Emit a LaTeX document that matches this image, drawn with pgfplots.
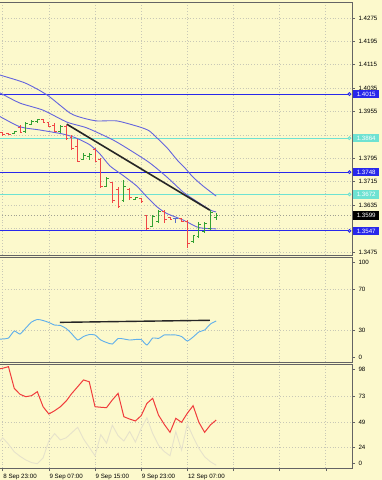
\documentclass[border=0pt]{standalone}
\usepackage{pgfplots}
\pgfplotsset{compat=1.18}
\usepackage{pgfplotstable}
\usepackage{fontspec}
\setmainfont{Liberation Sans}
\definecolor{bg}{RGB}{252,249,204}
\definecolor{framecol}{RGB}{100,100,100}
\definecolor{gridcol}{RGB}{200,200,182}
\definecolor{bandcol}{RGB}{100,100,222}
\definecolor{blueline}{RGB}{40,40,235}
\definecolor{cyanline}{RGB}{110,226,210}
\definecolor{barred}{RGB}{240,70,70}
\definecolor{bargreen}{RGB}{50,160,50}
\definecolor{rsicol}{RGB}{95,175,235}
\definecolor{stred}{RGB}{240,60,60}
\definecolor{stgray}{RGB}{230,226,203}
\definecolor{dojicol}{RGB}{90,110,200}

\pgfdeclareplotmark{otick}{\pgfpathmoveto{\pgfpoint{-2.3bp}{0pt}}\pgfpathlineto{\pgfpoint{0pt}{0pt}}\pgfusepathqstroke}
\pgfdeclareplotmark{ctick}{\pgfpathmoveto{\pgfpoint{0pt}{0pt}}\pgfpathlineto{\pgfpoint{2.3bp}{0pt}}\pgfusepathqstroke}

\pgfplotstableread{
x o h l c
0 1.3883 1.3885 1.3872 1.3875
1 1.3880 1.3882 1.3875 1.3876
3 1.3900 1.3909 1.3882 1.3884
7 1.3928 1.3930 1.3916 1.3918
8 1.3917 1.3919 1.3902 1.3905
9 1.3908 1.3916 1.3885 1.3888
11 1.3905 1.3909 1.3858 1.3862
12 1.3865 1.3875 1.3824 1.3830
13 1.3835 1.3861 1.3783 1.3786
16 1.3825 1.3831 1.3783 1.3786
17 1.3790 1.3796 1.3694 1.3698
19 1.3712 1.3714 1.3642 1.3650
20 1.3690 1.3697 1.3625 1.3630
22 1.3690 1.3694 1.3653 1.3660
24 1.3658 1.3660 1.3642 1.3648
25 1.3598 1.3601 1.3550 1.3555
28 1.3612 1.3618 1.3574 1.3585
29 1.3593 1.3595 1.3584 1.3586
31 1.3589 1.3591 1.3577 1.3580
32 1.3580 1.3584 1.3489 1.3505
}\redbars

\pgfplotstableread{
x o h l c
2 1.3879 1.3889 1.3878 1.3887
4 1.3886 1.3919 1.3882 1.3914
5 1.3912 1.3926 1.3909 1.3922
6 1.3920 1.3930 1.3916 1.3927
10 1.3886 1.3909 1.3882 1.3905
14 1.3792 1.3813 1.3790 1.3806
15 1.3800 1.3813 1.3790 1.3808
18 1.3700 1.3731 1.3697 1.3725
21 1.3650 1.3721 1.3646 1.3700
23 1.3656 1.3663 1.3653 1.3660
26 1.3562 1.3601 1.3560 1.3595
27 1.3580 1.3618 1.3574 1.3612
33 1.3510 1.3533 1.3506 1.3530
34 1.3528 1.3577 1.3523 1.3570
35 1.3545 1.3577 1.3540 1.3572
36 1.3555 1.3618 1.3550 1.3610
37 1.3592 1.3608 1.3584 1.3599
}\greenbars

\pgfplotstableread{
x o h l c
30 1.3588 1.3591 1.3574 1.3588
}\dojibars

\pgfplotsset{
  panel/.style={scale only axis, width=353bp, xmin=-0.64, xmax=60.54, clip=false,
    anchor=north west,
    axis background/.style={fill=bg},
    axis line style={draw=framecol, line width=1bp},
    xtick={0,8,...,56}, xmajorgrids,
    grid style={draw=gridcol, line width=0.7bp, dash pattern=on 0.7bp off 2.2bp},
    ytick pos=right, yticklabel pos=right, tick align=outside, major tick length=3bp,
    tick style={draw=framecol, line width=0.6bp},
    tick label style={font=\fontsize{6.2}{7}\selectfont, text=black},
    scaled y ticks=false},
}
\tikzset{
  boxlab/.style={anchor=west, inner sep=0pt, minimum width=26bp, minimum height=8.5bp,
    text=white, font=\fontsize{6.2}{7}\selectfont, xshift=1bp},
}

\begin{document}
\begin{tikzpicture}
\path[use as bounding box] (0,0) rectangle (382bp,-480bp);
\fill[bg] (0,0) rectangle (382bp,-480bp);
\clip (0,0) rectangle (382bp,-480bp);

% ---------------- price panel ----------------
\begin{axis}[panel, at={(-1bp,-2bp)}, height=253bp,
  ymin=1.34646, ymax=1.43297,
  xticklabels={}, xtick style={draw=none},
  ytick={1.4275,1.4195,1.4115,1.4035,1.3955,1.3875,1.3795,1.3715,1.3635,1.3555,1.3475},
  yticklabels={1.4275,1.4195,1.4115,1.4035,1.3955,,1.3795,1.3715,1.3635,,1.3475},
  ymajorgrids]
% bid line
\addplot[gridcol!80!black, line width=0.7bp, dash pattern=on 0.7bp off 2.2bp] coordinates {(-0.64,1.3599) (60.54,1.3599)};
% horizontal levels
\addplot[blueline, line width=0.9bp, mark=o, mark size=1.4bp, mark indices={2}, mark options={fill=bg}] coordinates {(-0.64,1.4015) (60.1,1.4015)};
\addplot[cyanline, line width=0.9bp, mark=o, mark size=1.4bp, mark indices={2}, mark options={fill=bg}] coordinates {(-0.64,1.3864) (60.1,1.3864)};
\addplot[blueline, line width=0.9bp, mark=o, mark size=1.4bp, mark indices={2}, mark options={fill=bg}] coordinates {(-0.64,1.3748) (60.1,1.3748)};
\addplot[cyanline, line width=0.9bp, mark=o, mark size=1.4bp, mark indices={2}, mark options={fill=bg}] coordinates {(-0.64,1.3672) (60.1,1.3672)};
\addplot[blueline, line width=0.9bp, mark=o, mark size=1.4bp, mark indices={2}, mark options={fill=bg}] coordinates {(-0.64,1.3547) (60.1,1.3547)};
% bands
\addplot[bandcol, line width=0.9bp, smooth, tension=0.4] coordinates {
(-0.64,1.4083) (-0.47,1.4080) (3.86,1.4053) (7.68,1.4012) (11.66,1.3950) (13.92,1.3933) (16.34,1.3923) (19.81,1.3923)
(23.80,1.3902) (25.40,1.3889) (26.74,1.3865) (28.50,1.3831) (30.21,1.3790) (31.60,1.3762) (32.98,1.3731) (34.70,1.3701) (37,1.3666)};
\addplot[bandcol, line width=0.9bp, smooth, tension=0.4] coordinates {
(-0.64,1.4022) (-0.47,1.4019) (3.0,1.3984) (6.98,1.3960) (11.14,1.3919) (14.61,1.3899) (19.12,1.3858) (22.58,1.3817)
(25.53,1.3779) (28.47,1.3731) (31.25,1.3680) (32.46,1.3663) (35.93,1.3619) (37,1.3612)};
\addplot[bandcol, line width=0.9bp, smooth, tension=0.4] coordinates {
(-0.64,1.3941) (-0.47,1.3938) (3.0,1.3903) (6.46,1.3892) (10.5,1.3878) (12.8,1.3864) (15.13,1.3841) (16.86,1.3810)
(18.6,1.3769) (20.9,1.3736) (23.2,1.3701) (24.96,1.3664) (26.7,1.3630) (28.4,1.3607) (31.3,1.3584) (33.6,1.3561) (34.8,1.3556) (37,1.3554)};
% trend line
\addplot[black!85, line width=1.6bp] coordinates {(11.1,1.3912) (35.9,1.3618)};
% bars
\addplot[draw=none, mark=none, forget plot, error bars/.cd, y dir=both, y explicit, error mark=none,
  error bar style={line width=1bp, draw=barred}]
  table[x=x, y expr={(\thisrow{h}+\thisrow{l})/2}, y error expr={(\thisrow{h}-\thisrow{l})/2}] {\redbars};
\addplot[barred, only marks, mark=otick, mark options={line width=1bp}] table[x=x,y=o] {\redbars};
\addplot[barred, only marks, mark=ctick, mark options={line width=1bp}] table[x=x,y=c] {\redbars};
\addplot[draw=none, mark=none, forget plot, error bars/.cd, y dir=both, y explicit, error mark=none,
  error bar style={line width=1bp, draw=bargreen}]
  table[x=x, y expr={(\thisrow{h}+\thisrow{l})/2}, y error expr={(\thisrow{h}-\thisrow{l})/2}] {\greenbars};
\addplot[bargreen, only marks, mark=otick, mark options={line width=1bp}] table[x=x,y=o] {\greenbars};
\addplot[bargreen, only marks, mark=ctick, mark options={line width=1bp}] table[x=x,y=c] {\greenbars};
\addplot[draw=none, mark=none, forget plot, error bars/.cd, y dir=both, y explicit, error mark=none,
  error bar style={line width=1bp, draw=dojicol}]
  table[x=x, y expr={(\thisrow{h}+\thisrow{l})/2}, y error expr={(\thisrow{h}-\thisrow{l})/2}] {\dojibars};
\addplot[dojicol, only marks, mark=otick, mark options={line width=1bp}] table[x=x,y=o] {\dojibars};
\addplot[dojicol, only marks, mark=ctick, mark options={line width=1bp}] table[x=x,y=c] {\dojibars};
% right-hand price boxes
\node[boxlab, fill=blueline] at (axis cs:60.54,1.4015) {1.4015};
\node[boxlab, fill=cyanline] at (axis cs:60.54,1.3864) {1.3864};
\node[boxlab, fill=blueline] at (axis cs:60.54,1.3748) {1.3748};
\node[boxlab, fill=cyanline] at (axis cs:60.54,1.3672) {1.3672};
\node[boxlab, fill=black] at (axis cs:60.54,1.3599) {1.3599};
\node[boxlab, fill=blueline] at (axis cs:60.54,1.3547) {1.3547};
\end{axis}

% ---------------- RSI panel ----------------
\begin{axis}[panel, at={(-1bp,-257bp)}, height=105bp,
  ymin=-0.68, ymax=100.97,
  xticklabels={}, xtick style={draw=none},
  ytick={3.9,95.8}, yticklabels={0,100},
  extra y ticks={30,70}, extra y tick labels={30,70},
  extra y tick style={grid=major}]
\addplot[rsicol, line width=0.9bp, smooth, tension=0.35] coordinates {
(-0.6,21.4) (0,21.6) (1,22.5) (2,29.3) (3,26.4) (4,32.2) (5,38.0) (6,40.5) (7,39.5) (8,37.6) (9,35.1)
(10,34.7) (11,31.8) (12,26.4) (13,20.6) (14,24.0) (15,25.9) (16,25.5) (17,20.6) (18,18.2) (19,16.7)
(20,22.1) (21,21.6) (22,20.6) (23,21.1) (24,21.1) (25,15.8) (26,22.6) (27,22.1) (28,25.5) (29,25.5)
(30,25.5) (31,24.0) (32,19.7) (33,23.5) (34,28.4) (35,30.3) (36,36.1) (37,39.0)};
\addplot[black!85, line width=1.4bp] coordinates {(9.93,37.7) (35.9,39.7)};
\end{axis}

% ---------------- third panel ----------------
\begin{axis}[panel, at={(-1bp,-364bp)}, height=104bp,
  ymin=4.36, ymax=103.03,
  xtick pos=left,
  xticklabels={8 Sep 23:00,9 Sep 07:00,9 Sep 15:00,9 Sep 23:00,12 Sep 07:00,,,},
  xticklabel style={anchor=north west, inner sep=0pt, yshift=-2.5bp, xshift=0.5bp},
  ytick={8.4,98}, yticklabels={0,98},
  extra y ticks={24,48,72}, extra y tick labels={24,49,73},
  extra y tick style={grid=major}]
\addplot[stgray, line width=0.9bp] coordinates {
(-0.6,29) (0,33) (1,27) (2,19.8) (3,15.5) (4,12) (5,9.5) (6,8.5) (7,14) (8,30) (9,37) (10,31)
(11,33) (12,38) (13,43) (14,32) (15,24) (16,16) (17,36) (18,28) (19,45) (20,35) (21,30) (22,39)
(23,29) (24,42) (25,52) (26,37) (27,26) (28,20) (29,16) (30,38.8) (31,21.4) (32,46) (33,34)
(34,23) (35,15) (36,10.3) (37,7)};
\addplot[stred, line width=1bp] coordinates {
(-0.6,98.4) (0,99) (1,100.5) (2,80) (3,74.3) (4,72) (5,73) (6,76.8) (7,62.5) (8,55.6) (9,58.7)
(10,62.5) (11,67.9) (12,75.2) (13,81.5) (14,87.9) (15,86.2) (16,62.5) (17,62) (18,61.6) (19,68.9)
(20,75.2) (21,53) (22,50.8) (23,49) (24,54) (25,65.7) (26,70.5) (27,54.6) (28,45.8) (29,38.2)
(30,51.5) (31,47.7) (32,56.3) (33,63.5) (34,47.7) (35,38.2) (36,45.2) (37,49.9)};
\end{axis}
\end{tikzpicture}
\end{document}
